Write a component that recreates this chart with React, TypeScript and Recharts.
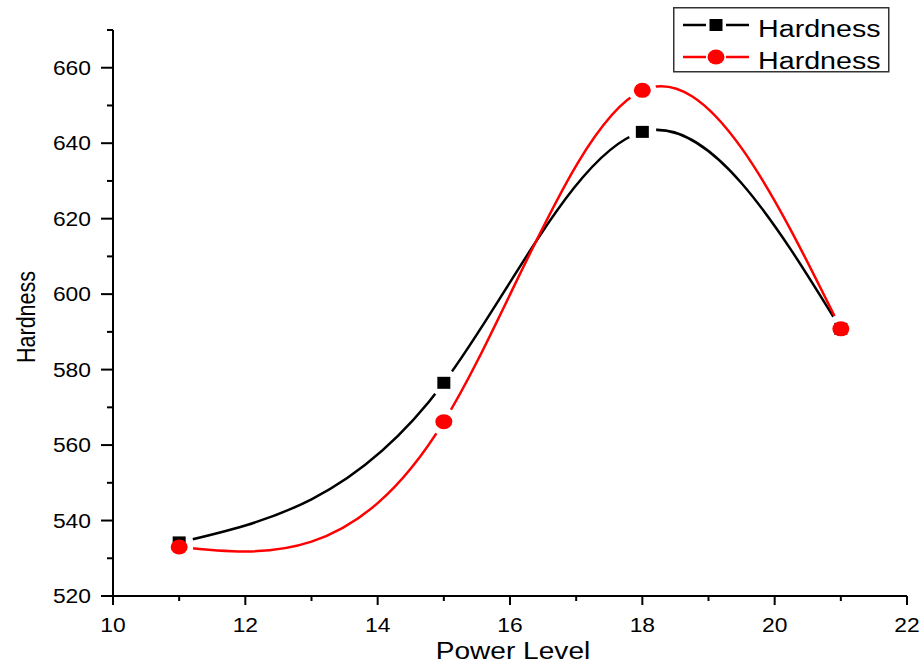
import { LineChart, Line, XAxis, YAxis, Legend } from 'recharts';

const powerLevels = [11, 15, 18, 21];
const hardnessA = [534.2, 576.5, 643, 590.8];
const hardnessB = [533, 566.2, 654, 590.8];
const xTicks = [10, 11, 12, 13, 14, 15, 16, 17, 18, 19, 20, 21, 22];
const yTicks = [520, 530, 540, 550, 560, 570, 580, 590, 600, 610, 620, 630, 640, 650, 660, 670];
const seriesName = 'Hardness';

const data = powerLevels.map((p, i) => ({ power: p, a: hardnessA[i], b: hardnessB[i] }));

const FONT = 'Liberation Sans, Arial, sans-serif';
const SX = 1.17; // source image is stretched horizontally

// natural cubic spline with y as a function of x (like Origin's "Spline" connect)
const splineX = (context: any) => {
  let xs: number[] = [];
  let ys: number[] = [];
  return {
    areaStart() {},
    areaEnd() {},
    lineStart() {
      xs = [];
      ys = [];
    },
    point(x: number, y: number) {
      xs.push(+x);
      ys.push(+y);
    },
    lineEnd() {
      const n = xs.length;
      if (!n) return;
      context.moveTo(xs[0], ys[0]);
      if (n === 1) return;
      if (n === 2) {
        context.lineTo(xs[1], ys[1]);
        return;
      }
      const h: number[] = [];
      const d: number[] = [];
      for (let i = 0; i < n - 1; i++) {
        h.push(xs[i + 1] - xs[i]);
        d.push((ys[i + 1] - ys[i]) / h[i]);
      }
      // tridiagonal solve for second derivatives, M0 = Mn-1 = 0
      const M = new Array(n).fill(0);
      const a: number[] = [], b: number[] = [], c: number[] = [], r: number[] = [];
      for (let i = 1; i < n - 1; i++) {
        a.push(h[i - 1]);
        b.push(2 * (h[i - 1] + h[i]));
        c.push(h[i]);
        r.push(6 * (d[i] - d[i - 1]));
      }
      const m = a.length;
      for (let i = 1; i < m; i++) {
        const w = a[i] / b[i - 1];
        b[i] -= w * c[i - 1];
        r[i] -= w * r[i - 1];
      }
      const sol = new Array(m).fill(0);
      sol[m - 1] = r[m - 1] / b[m - 1];
      for (let i = m - 2; i >= 0; i--) sol[i] = (r[i] - c[i] * sol[i + 1]) / b[i];
      for (let i = 0; i < m; i++) M[i + 1] = sol[i];
      const s: number[] = [];
      for (let i = 0; i < n - 1; i++) s.push(d[i] - (h[i] * (2 * M[i] + M[i + 1])) / 6);
      s.push(d[n - 2] + (h[n - 2] * (M[n - 2] + 2 * M[n - 1])) / 6);
      for (let i = 0; i < n - 1; i++) {
        const t = h[i] / 3;
        context.bezierCurveTo(xs[i] + t, ys[i] + s[i] * t, xs[i + 1] - t, ys[i + 1] - s[i + 1] * t, xs[i + 1], ys[i + 1]);
      }
    },
  };
};

const XTick = ({ x, y, payload }: any) => {
  const major = payload.value % 2 === 0;
  return (
    <g>
      <line x1={x} x2={x} y1={y} y2={y + (major ? 9 : 5)} stroke="#000" strokeWidth={2} />
      {major && (
        <text
          transform={`translate(${x},${y + 36}) scale(${SX},1)`}
          textAnchor="middle"
          fontFamily={FONT}
          fontSize={19.5}
          fill="#000"
        >
          {payload.value}
        </text>
      )}
    </g>
  );
};

const YTick = ({ x, y, payload }: any) => {
  const major = (payload.value - 520) % 20 === 0 && payload.value <= 660;
  return (
    <g>
      <line x1={x - (major ? 12 : 6)} x2={x} y1={y} y2={y} stroke="#000" strokeWidth={2} />
      {major && (
        <text
          transform={`translate(${x - 22},${y + 7}) scale(${SX},1)`}
          textAnchor="end"
          fontFamily={FONT}
          fontSize={19.5}
          fill="#000"
        >
          {payload.value}
        </text>
      )}
    </g>
  );
};

const Halo = ({ cx, cy }: any) => <circle cx={cx} cy={cy} r={14} fill="#fff" />;
const Square = ({ cx, cy }: any) => <rect x={cx - 6.5} y={cy - 6} width={13} height={12} fill="#000" />;
const Dot = ({ cx, cy }: any) => <ellipse cx={cx} cy={cy} rx={8.5} ry={7.5} fill="#ff0000" />;

const LegendBox = () => (
  <svg width={240} height={66} style={{ display: 'block', overflow: 'visible' }}>
    <rect x={0.75} y={0.75} width={215} height={64} fill="#fff" stroke="#333" strokeWidth={1.5} />
    <line x1={10} x2={33} y1={18} y2={18} stroke="#000" strokeWidth={2.5} />
    <line x1={53} x2={76} y1={18} y2={18} stroke="#000" strokeWidth={2.5} />
    <rect x={36.5} y={12} width={13} height={12} fill="#000" />
    <text transform={`translate(85,30) scale(${SX},1)`} fontFamily={FONT} fontSize={24.5} fill="#000">
      {seriesName}
    </text>
    <line x1={10} x2={33} y1={50} y2={50} stroke="#ff0000" strokeWidth={2.5} />
    <line x1={53} x2={76} y1={50} y2={50} stroke="#ff0000" strokeWidth={2.5} />
    <ellipse cx={43} cy={50} rx={8.5} ry={7.5} fill="#ff0000" />
    <text transform={`translate(85,62) scale(${SX},1)`} fontFamily={FONT} fontSize={24.5} fill="#000">
      {seriesName}
    </text>
  </svg>
);

export default function App() {
  return (
    <div style={{ position: 'absolute', left: 0, top: 0, width: 923, height: 666, background: '#fff' }}>
      <LineChart width={923} height={666} data={data} margin={{ top: 30, right: 16, bottom: 0, left: 0 }}>
        <XAxis
          dataKey="power"
          type="number"
          domain={[10, 22]}
          ticks={xTicks}
          interval={0}
          height={70}
          tickSize={0}
          tickMargin={0}
          tickLine={false}
          axisLine={{ stroke: '#000', strokeWidth: 2 }}
          tick={(p: any) => <XTick {...p} />}
          label={({ viewBox }: any) => (
            <text
              transform={`translate(${viewBox.x + viewBox.width / 2 + 3},${659}) scale(${SX},1)`}
              textAnchor="middle"
              fontFamily={FONT}
              fontSize={24}
              fill="#000"
            >
              Power Level
            </text>
          )}
        />
        <YAxis
          type="number"
          domain={[520, 670]}
          ticks={yTicks}
          interval={0}
          width={113}
          tickSize={0}
          tickMargin={0}
          tickLine={false}
          axisLine={{ stroke: '#000', strokeWidth: 2 }}
          tick={(p: any) => <YTick {...p} />}
          label={() => (
            <text
              transform={`translate(35,317) scale(${SX},1) rotate(-90)`}
              textAnchor="middle"
              fontFamily={FONT}
              fontSize={21.5}
              fill="#000"
            >
              Hardness
            </text>
          )}
        />
        <Legend
          layout="horizontal"
          verticalAlign="middle"
          align="center"
          wrapperStyle={{ left: 673, top: 7, width: 240, height: 66 }}
          content={() => <LegendBox />}
        />
        <Line dataKey="a" name={seriesName} type={splineX as any} stroke="#000" strokeWidth={2.5} dot={false} activeDot={false} isAnimationActive={false} />
        <Line dataKey="b" name={seriesName} type={splineX as any} stroke="#ff0000" strokeWidth={2.5} dot={false} activeDot={false} isAnimationActive={false} />
        <Line dataKey="a" legendType="none" stroke="none" dot={(p: any) => <Halo key={`ha${p.index}`} {...p} />} activeDot={false} isAnimationActive={false} />
        <Line dataKey="b" legendType="none" stroke="none" dot={(p: any) => <Halo key={`hb${p.index}`} {...p} />} activeDot={false} isAnimationActive={false} />
        <Line dataKey="a" legendType="none" stroke="none" dot={(p: any) => <Square key={`sa${p.index}`} {...p} />} activeDot={false} isAnimationActive={false} />
        <Line dataKey="b" legendType="none" stroke="none" dot={(p: any) => <Dot key={`db${p.index}`} {...p} />} activeDot={false} isAnimationActive={false} />
      </LineChart>
    </div>
  );
}
